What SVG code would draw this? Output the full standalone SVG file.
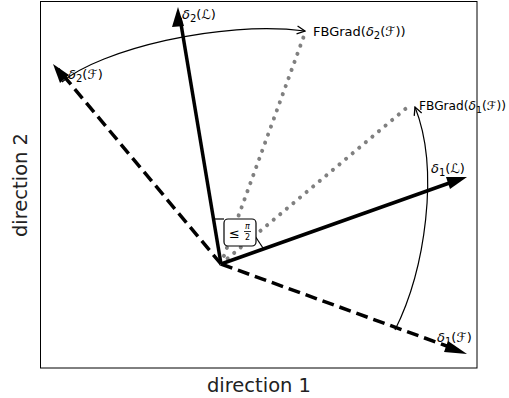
<svg xmlns="http://www.w3.org/2000/svg" width="509" height="398" viewBox="0 0 509 398">
<style>
.lab{font-family:"DejaVu Sans",sans-serif;font-size:13px;fill:#000}
.ax{font-family:"DejaVu Sans",sans-serif;font-size:19.5px;fill:#222}
.solid{stroke:#000;stroke-width:3.5;fill:none}
.dash{stroke:#000;stroke-width:3.5;fill:none;stroke-dasharray:12 6}
.dot{stroke:#808080;stroke-width:4;fill:none;stroke-dasharray:0.1 8.5;stroke-linecap:round}
.thin{stroke:#000;stroke-width:1.2;fill:none}
</style>
<defs>
<marker id="open" markerWidth="10" markerHeight="10" refX="9" refY="5" orient="auto" markerUnits="userSpaceOnUse" viewBox="0 0 10 10"><path d="M1,1 L9,5 L1,9" fill="none" stroke="#000" stroke-width="1.3"/></marker>
</defs>
<rect x="40.5" y="1.5" width="436.5" height="366.5" fill="#fff" stroke="#000" stroke-width="1"/>
<g id="connectors">
<line class="dot" x1="221" y1="264" x2="305" y2="33"/>
<line class="dot" x1="221" y1="264" x2="410" y2="105"/>
<line class="dash" x1="221" y1="264" x2="58" y2="69"/>
<line class="dash" x1="221" y1="264" x2="455" y2="349"/>
<line class="solid" x1="221" y1="264" x2="180" y2="18"/>
<line class="solid" x1="221" y1="264" x2="455" y2="181"/>
<path d="M178,7 L172,27 L184,26 Z" fill="#000"/>
<path d="M467,177 L446,177 L450,189 Z" fill="#000"/>
<path d="M53,64 L60,83 L69,75 Z" fill="#000"/>
<path d="M467,354 L448,341 L444,352 Z" fill="#000"/>
<path class="thin" d="M62,82 C100,50 220,20 305,31" marker-end="url(#open)"/>
<path class="thin" d="M395,330 C425,270 440,170 415,107" marker-end="url(#open)"/>
<line class="thin" x1="214" y1="219" x2="224" y2="219"/>
<line class="thin" x1="255" y1="236" x2="263" y2="248"/>
</g>
<g id="angle">
<rect x="224" y="219" width="32" height="27" rx="4" fill="#fff" stroke="#000" stroke-width="1.2"/>
<text class="lab" x="229" y="238" style="font-size:13px">≤</text>
<text class="lab" x="245" y="229" style="font-size:8px;font-style:italic">π</text>
<line x1="244" y1="231.5" x2="251" y2="231.5" stroke="#000" stroke-width="0.8"/>
<text class="lab" x="245" y="240" style="font-size:8px">2</text>
</g>
<g id="labels">
<text class="lab" x="182" y="19"><tspan font-style="italic">δ</tspan><tspan font-size="10" dy="3">2</tspan><tspan dy="-3">(ℒ)</tspan></text>
<text class="lab" x="68" y="79"><tspan font-style="italic">δ</tspan><tspan font-size="10" dy="3">2</tspan><tspan dy="-3">(ℱ)</tspan></text>
<text class="lab" x="313" y="36">FBGrad(<tspan font-style="italic">δ</tspan><tspan font-size="10" dy="3">2</tspan><tspan dy="-3">(ℱ))</tspan></text>
<text class="lab" x="419" y="110" style="font-size:12.2px">FBGrad(<tspan font-style="italic">δ</tspan><tspan font-size="9.5" dy="3">1</tspan><tspan dy="-3">(ℱ))</tspan></text>
<text class="lab" x="431" y="173"><tspan font-style="italic">δ</tspan><tspan font-size="10" dy="3">1</tspan><tspan dy="-3">(ℒ)</tspan></text>
<text class="lab" x="437" y="342"><tspan font-style="italic">δ</tspan><tspan font-size="10" dy="3">1</tspan><tspan dy="-3">(ℱ)</tspan></text>
</g>
<text class="ax" x="259" y="392" text-anchor="middle">direction 1</text>
<text class="ax" x="0" y="0" text-anchor="middle" transform="translate(27,185) rotate(-90)">direction 2</text>
</svg>
